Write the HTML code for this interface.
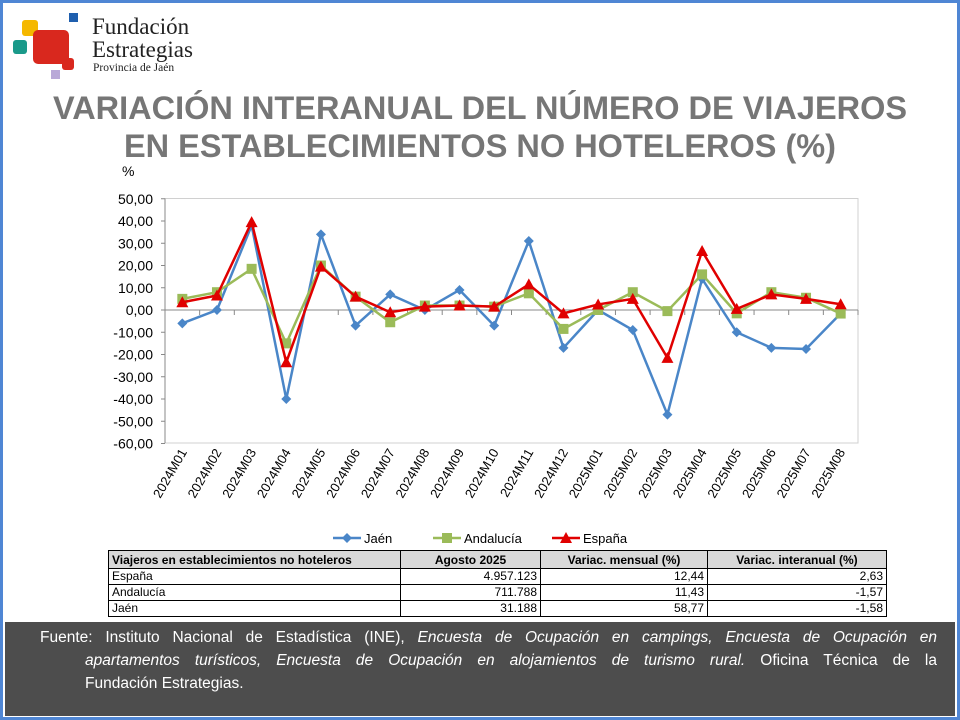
<!DOCTYPE html>
<html><head><meta charset="utf-8"><style>
body{margin:0;width:960px;height:720px;overflow:hidden;background:#fff;font-family:"Liberation Sans",sans-serif;}
#frame{position:absolute;left:0;top:0;width:954px;height:714px;border:3px solid #4f86d4;}
.title{position:absolute;left:0;width:960px;text-align:center;color:#767676;font-weight:bold;font-size:32.5px;line-height:38px;top:89px;}
table{position:absolute;left:108px;top:550px;width:778px;border-collapse:collapse;font-size:12px;font-family:"Liberation Sans Narrow","Liberation Sans",sans-serif;table-layout:fixed;}
td{border:1px solid #000;padding:0 3px;height:15px;line-height:15px;}
th{border:1px solid #000;background:#d9d9d9;font-weight:bold;height:17px;padding:0 3px;}
td.r{text-align:right}
#foot{position:absolute;left:5px;top:622px;width:950px;height:94px;background:#4d4d4d;color:#fff;font-size:15.5px;line-height:23px;}
.j{text-align:justify;text-align-last:justify}
</style></head><body>
<div id="frame"></div>
<div style="position:absolute;left:22px;top:20px;width:16px;height:16px;background:#f5b800;border-radius:3px"></div>
<div style="position:absolute;left:69px;top:13px;width:9px;height:9px;background:#1f5fae"></div>
<div style="position:absolute;left:13px;top:40px;width:14px;height:14px;background:#1a9a8a;border-radius:3px"></div>
<div style="position:absolute;left:33px;top:30px;width:36px;height:34px;background:#d9281e;border-radius:5px"></div>
<div style="position:absolute;left:62px;top:58px;width:12px;height:12px;background:#d9281e;border-radius:3px"></div>
<div style="position:absolute;left:51px;top:70px;width:9px;height:9px;background:#b9a9d8"></div>
<div style="position:absolute;left:92px;top:15px;font-family:'Liberation Serif',serif;font-size:23px;line-height:23px;color:#222">Fundación<br>Estrategias</div>
<div style="position:absolute;left:93px;top:62px;font-family:'Liberation Serif',serif;font-size:11.5px;color:#222">Provincia de Jaén</div>
<div class="title">VARIACIÓN INTERANUAL DEL NÚMERO DE VIAJEROS<br>EN ESTABLECIMIENTOS NO HOTELEROS (%)</div>
<svg id="ch" width="960" height="720" style="position:absolute;left:0;top:0" font-family="Liberation Sans, sans-serif"></svg>
<table>
<colgroup><col style="width:292px"><col style="width:140px"><col style="width:167px"><col style="width:179px"></colgroup>
<tr><th style="text-align:left">Viajeros en establecimientos no hoteleros</th><th>Agosto 2025</th><th>Variac. mensual (%)</th><th>Variac. interanual (%)</th></tr>
<tr><td>España</td><td class="r">4.957.123</td><td class="r">12,44</td><td class="r">2,63</td></tr>
<tr><td>Andalucía</td><td class="r">711.788</td><td class="r">11,43</td><td class="r">-1,57</td></tr>
<tr><td>Jaén</td><td class="r">31.188</td><td class="r">58,77</td><td class="r">-1,58</td></tr>
</table>
<div id="foot"><div class="j" style="padding:4px 18px 0 35px">Fuente: Instituto Nacional de Estadística (INE), <i>Encuesta de Ocupación en campings, Encuesta de Ocupación en</i></div>
<div class="j" style="padding:0 18px 0 80px"><i>apartamentos turísticos, Encuesta de Ocupación en alojamientos de turismo rural.</i> Oficina Técnica de la</div>
<div style="padding:0 18px 0 80px">Fundación Estrategias.</div></div>
<script>
var s='',L=165,R=858,T=198.5,B=443;
function y(v){return 310-v*2.225;}
s+='<rect x="'+L+'" y="'+T+'" width="'+(R-L)+'" height="'+(B-T)+'" fill="none" stroke="#d0d0d0"/>';
s+='<line x1="'+L+'" y1="'+T+'" x2="'+L+'" y2="'+B+'" stroke="#888"/>';
s+='<line x1="'+L+'" y1="310" x2="'+R+'" y2="310" stroke="#888"/>';
s+='<text x="122" y="176" font-size="14">%</text>';
for(var v=50;v>=-60;v-=10){s+='<line x1="'+(L-4)+'" y1="'+y(v)+'" x2="'+L+'" y2="'+y(v)+'" stroke="#888"/><text x="153" y="'+(y(v)+5)+'" font-size="14" text-anchor="end">'+v+',00</text>';}
var w=(R-L)/20,labs=[];
for(var i=0;i<20;i++){var m=i<12?i+1:i-11;labs.push((i<12?'2024M':'2025M')+(m<10?'0'+m:m));}
for(i=0;i<=20;i++){var x=L+i*w;s+='<line x1="'+x+'" y1="310" x2="'+x+'" y2="315" stroke="#888"/>';}
for(i=0;i<20;i++){var cx=L+w/2+i*w+5;s+='<text transform="translate('+cx+',452) rotate(-60)" font-size="13" text-anchor="end">'+labs[i]+'</text>';}
var J=[-6,0,38,-40,34,-7,7,0,9,-7,31,-17,0,-9,-47,14,-10,-17,-17.5,-1.6],
A=[5,8,18.5,-15,20,6,-5.5,2,2,1.5,7.5,-8.5,0,8,-0.5,16,-1.5,8,5.5,-1.6],
E=[3.5,6.5,39.5,-23.5,19.5,6,-1,1.5,2,1.5,11.5,-1.5,2.5,5,-21.5,26.5,0.5,7,5,2.6];
function ser(d,c,mk){var p=d.map(function(v,i){return (L+w/2+i*w)+','+y(v)}).join(' ');
s+='<polyline points="'+p+'" fill="none" stroke="'+c+'" stroke-width="2.5"/>';
d.forEach(function(v,i){var cx=L+w/2+i*w,cy=y(v);s+=mk(cx,cy);});}
function dia(x,yy){return '<polygon points="'+x+','+(yy-5)+' '+(x+5)+','+yy+' '+x+','+(yy+5)+' '+(x-5)+','+yy+'" fill="#4a86c8"/>';}
function sq(x,yy){return '<rect x="'+(x-5)+'" y="'+(yy-5)+'" width="10" height="10" fill="#9bbb59"/>';}
function tri(x,yy){return '<polygon points="'+x+','+(yy-6)+' '+(x+6)+','+(yy+5)+' '+(x-6)+','+(yy+5)+'" fill="#e00000"/>';}
ser(J,'#4a86c8',dia);ser(A,'#9bbb59',sq);ser(E,'#e00000',tri);
var ly=538;
s+='<line x1="333" y1="'+ly+'" x2="361" y2="'+ly+'" stroke="#4a86c8" stroke-width="2.5"/>'+dia(347,ly)+'<text x="364" y="'+(ly+5)+'" font-size="13">Jaén</text>';
s+='<line x1="433" y1="'+ly+'" x2="461" y2="'+ly+'" stroke="#9bbb59" stroke-width="2.5"/>'+sq(447,ly)+'<text x="464" y="'+(ly+5)+'" font-size="13">Andalucía</text>';
s+='<line x1="552" y1="'+ly+'" x2="580" y2="'+ly+'" stroke="#e00000" stroke-width="2.5"/>'+tri(566,ly)+'<text x="583" y="'+(ly+5)+'" font-size="13">España</text>';
document.getElementById('ch').innerHTML=s;
</script>
</body></html>
